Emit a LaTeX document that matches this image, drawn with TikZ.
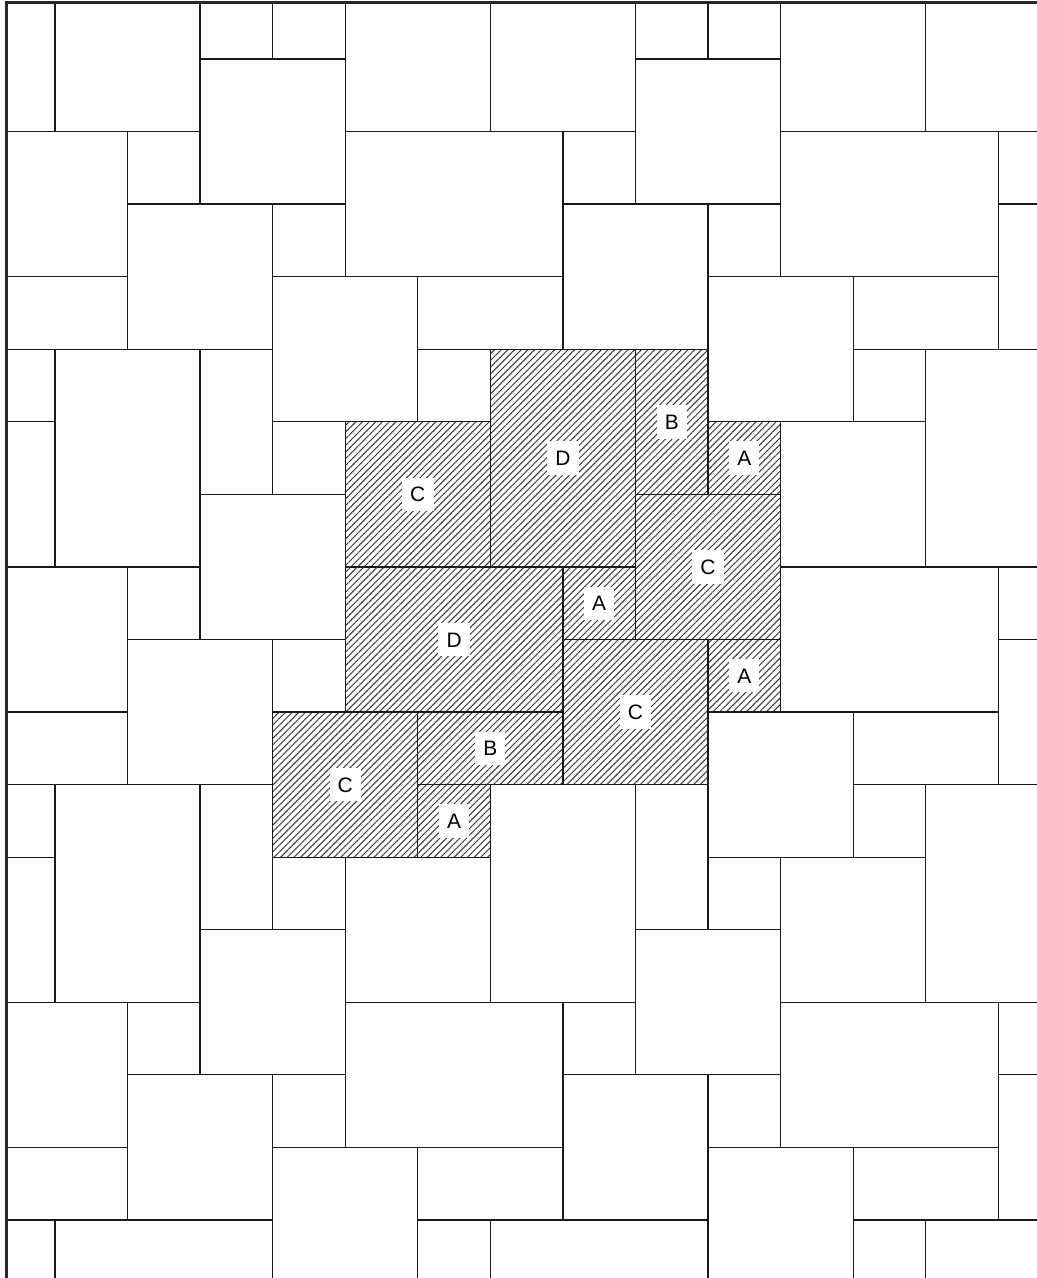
\documentclass[tikz,border=0pt]{standalone}
\usepackage{fontspec}
\setmainfont{Liberation Sans}
\usetikzlibrary{patterns.meta}
\begin{document}
\begin{tikzpicture}[
  tile/.style={draw=black!90, line width=0.5pt},
  hatched/.style={tile, pattern={Lines[angle=45,distance=1.85pt,line width=0.38pt]}, pattern color=black!80},
  lbl/.style={fill=white, inner xsep=3.2pt, inner ysep=3.6pt, font=\fontsize{8.2}{9}\selectfont, text height=5.9pt, text depth=0pt},
  frame/.style={draw=black!85, line width=0.9pt}
]
\useasboundingbox (-0.758,0.813) rectangle (13.520,-16.800);
% tiles of one period (x, y, width, height, label); y grows downwards
\def\basetiles{4/5/2/2/C, 6/4/2/3/D, 8/4/1/2/B, 9/5/1/1/A, 8/6/2/2/C, 7/7/1/1/A, 4/7/3/2/D, 7/8/2/2/C, 9/8/1/1/A, 5/9/2/1/B, 3/9/2/2/C, 5/10/1/1/A}
\def\alltimes{4/5/2/2, 9/5/1/1, 8/6/2/2, 7/7/1/1, 4/7/3/2, 7/8/2/2, 9/8/1/1, 5/9/2/1, 3/9/2/2, 5/10/1/1}
\def\uppertiles{6/4/2/3, 8/4/1/2}
\begin{scope}
  \clip (-0.668,0.779) rectangle (14,-17.5);
  \foreach \a in {-2,...,2}{
    \foreach \b in {-2,...,2}{
      \foreach \x/\y/\w/\h in \alltimes{
        \draw[tile] ({\x+6*\a},{-(\y+6*\b)}) rectangle ++(\w,-\h);
      }
    }
    \foreach \b in {-2,...,1}{
      \foreach \x/\y/\w/\h in \uppertiles{
        \draw[tile] ({\x+6*\a},{-(\y+6*\b)}) rectangle ++(\w,-\h);
      }
    }
    % bottom row
    \draw[tile] ({6*\a},-16) rectangle ++(3,-2);
  }
  \foreach \x/\y/\w/\h/\t [count=\k] in \basetiles{
    \draw[hatched] (\x,-\y) rectangle ++(\w,-\h);
    \node[lbl] (lab\k) at ({\x+\w/2},{-(\y+\h/2)}) {\t};
  }
\end{scope}
\draw[frame] (-0.668,-17.5) -- (-0.668,0.779) -- (14,0.779);
\end{tikzpicture}
\end{document}
